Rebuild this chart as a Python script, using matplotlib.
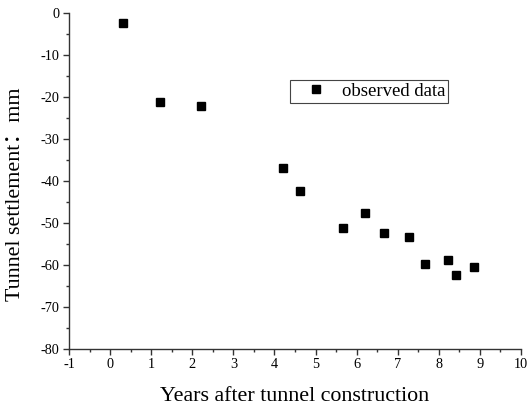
import numpy as np
import matplotlib.pyplot as plt
from matplotlib.ticker import MultipleLocator

years = [0.32, 1.21, 2.22, 4.22, 4.61, 5.67, 6.21, 6.67, 7.28, 7.66, 8.22, 8.43, 8.86]
settlement = [-2.3, -21.1, -22.0, -36.9, -42.3, -51.1, -47.6, -52.3, -53.3, -59.8, -58.7, -62.4, -60.5]

plt.rcParams['font.family'] = ['Liberation Serif', 'Noto Sans CJK SC']
plt.rcParams['axes.unicode_minus'] = False

fig = plt.figure(figsize=(5.27, 4.08), dpi=100)
ax = fig.add_axes([69 / 527, 59 / 408, 452 / 527, 335.7 / 408])

ax.plot(years, settlement, 's', color='black', markersize=5.3, label='observed data')

ax.set_xlim(-1, 10)
ax.set_ylim(-80, 0)
ax.xaxis.set_major_locator(MultipleLocator(1))
ax.xaxis.set_minor_locator(MultipleLocator(0.5))
ax.yaxis.set_major_locator(MultipleLocator(10))
ax.yaxis.set_minor_locator(MultipleLocator(5))

for side in ['top', 'right']:
    ax.spines[side].set_visible(False)
for side in ['left', 'bottom']:
    ax.spines[side].set_linewidth(1.0)
    ax.spines[side].set_color('#333333')

ax.tick_params(which='major', direction='out', length=4.3, width=1.0, labelsize=10.3, pad=2.5, color='#333333')
ax.tick_params(which='minor', direction='out', length=2.2, width=1.0, color='#333333')

ax.set_xlabel('Years after tunnel construction', fontsize=15.8, labelpad=11)
ax.set_ylabel('Tunnel settlement：mm', fontsize=15.8)
ax.yaxis.set_label_coords(-0.097, 0.462)

leg = ax.legend(loc='upper left', bbox_to_anchor=(0.49, 0.801), borderaxespad=0,
                fontsize=13.5, fancybox=False, edgecolor='#444444', framealpha=1,
                handletextpad=0.2, handlelength=2.4, borderpad=0.15, markerscale=1.0)
leg.get_frame().set_linewidth(0.8)

fig.savefig('out.png', dpi=100)
